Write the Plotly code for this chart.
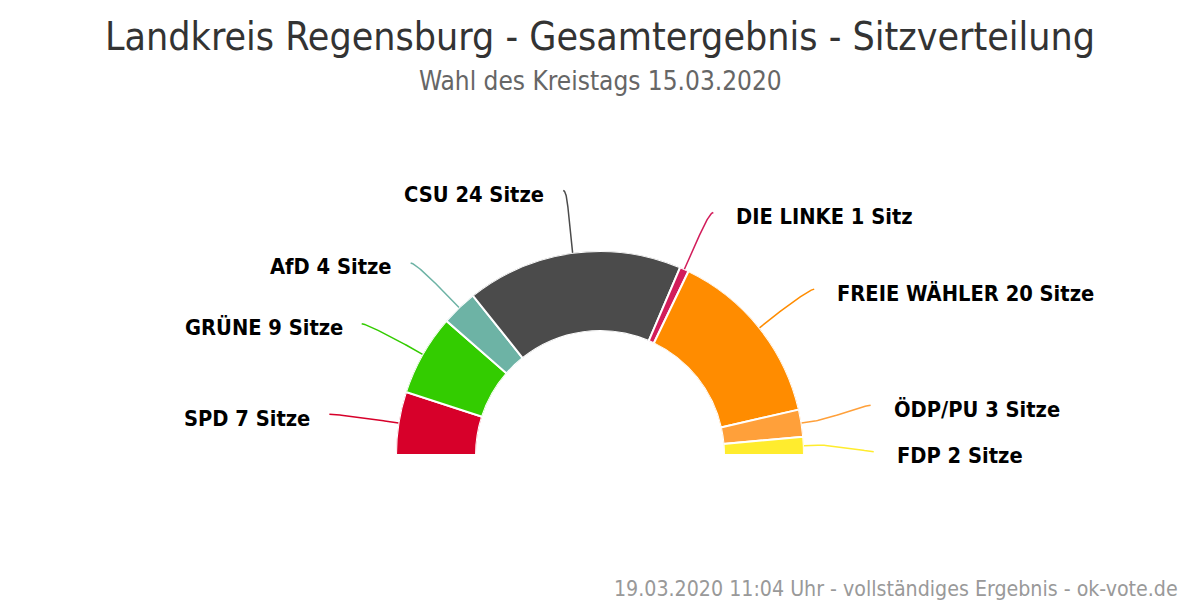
import math
import numpy as np
import plotly.graph_objects as go

# Sitzverteilung Kreistag Landkreis Regensburg 2020
parties = ["SPD", "GRÜNE", "AfD", "CSU", "DIE LINKE", "FREIE WÄHLER", "ÖDP/PU", "FDP"]
seats = [7, 9, 4, 24, 1, 20, 3, 2]
colors = ["#d7002a", "#33cc00", "#6db3a5", "#4b4b4b", "#d21d5b", "#ff8c00", "#ffa03a", "#ffec2e"]

title = "Landkreis Regensburg - Gesamtergebnis - Sitzverteilung"
subtitle = "Wahl des Kreistags 15.03.2020"
footer = "19.03.2020 11:04 Uhr - vollständiges Ergebnis - ok-vote.de"

W, H = 1200, 600
OFF = 8                    # page margin of the html body
CX, CY = 600, 455          # centre of the half ring (screen pixels)
R_OUT, R_IN = 204, 124
LABEL_R = 274
BREAK = 14
LABEL_NUDGE = [2, 4, 6, 7, 7, 5, -7, 9]   # vertical spreading of labels
FONT = "DejaVu Sans Condensed"

total = sum(seats)
cum = np.cumsum([0] + seats)
start_deg = 180 - cum[:-1] * 180 / total
end_deg = 180 - cum[1:] * 180 / total
mid_deg = (start_deg + end_deg) / 2
width_deg = np.array(seats) * 180 / total

labels = [f"{p} {n} {'Sitz' if n == 1 else 'Sitze'}" for p, n in zip(parties, seats)]

fig = go.Figure()
fig.add_trace(go.Barpolar(
    r=[1] * len(seats),
    theta=mid_deg,
    width=width_deg,
    marker=dict(color=colors, line=dict(color="white", width=2)),
    hovertext=labels,
    hoverinfo="text",
    showlegend=False,
))

annotations = []
t = np.linspace(0, 1, 40)
for i, a_deg in enumerate(mid_deg):
    a = math.radians(a_deg)
    c, s = math.cos(a), math.sin(a)
    touch = np.array([CX + R_OUT * c, CY - R_OUT * s])
    brk = np.array([CX + (R_OUT + BREAK) * c, CY - (R_OUT + BREAK) * s])
    end = np.array([CX + LABEL_R * c, CY - LABEL_R * s + LABEL_NUDGE[i]])
    side = 1 if c >= 0 else -1
    c1 = np.array([end[0] - side * 5, end[1]])
    c2 = 2 * brk - touch
    bez = (((1 - t) ** 3)[:, None] * end + (3 * (1 - t) ** 2 * t)[:, None] * c1
           + (3 * (1 - t) * t ** 2)[:, None] * c2 + (t ** 3)[:, None] * brk)
    pts = np.vstack([bez, touch])
    fig.add_trace(go.Scatter(
        x=pts[:, 0], y=pts[:, 1], mode="lines",
        line=dict(color=colors[i], width=1.5),
        hoverinfo="skip", showlegend=False,
    ))
    annotations.append(dict(
        x=end[0] + side * (21 if side > 0 else 17), y=end[1] + 4, xref="x", yref="y",
        text=labels[i], showarrow=False,
        xanchor="left" if side > 0 else "right", yanchor="middle",
        font=dict(family=FONT, size=21.7, color="#000000", weight="bold"),
    ))

annotations += [
    dict(x=CX, y=36, xref="x", yref="y", text=title, showarrow=False,
         xanchor="center", yanchor="middle",
         font=dict(family=FONT, size=39, color="#333333")),
    dict(x=CX, y=81, xref="x", yref="y", text=subtitle, showarrow=False,
         xanchor="center", yanchor="middle",
         font=dict(family=FONT, size=26, color="#666666")),
    dict(x=1180, y=588, xref="x", yref="y", text=footer, showarrow=False,
         xanchor="right", yanchor="middle",
         font=dict(family=FONT, size=21.2, color="#999999")),
]

fig.update_layout(
    width=W, height=H,
    margin=dict(l=0, r=0, t=0, b=0),
    paper_bgcolor="white",
    plot_bgcolor="rgba(0,0,0,0)",
    # axis units = screen pixels of the photographed page
    xaxis=dict(range=[OFF, W + OFF], visible=False, fixedrange=True),
    yaxis=dict(range=[H + OFF, OFF], visible=False, fixedrange=True),
    polar=dict(
        domain=dict(x=[(CX - OFF - R_OUT) / W, (CX - OFF + R_OUT) / W],
                    y=[(H - CY + OFF) / H, (H - CY + OFF + R_OUT) / H]),
        sector=[0, 180],
        hole=R_IN / R_OUT,
        bgcolor="rgba(0,0,0,0)",
        radialaxis=dict(visible=False, range=[0, 1], showgrid=False),
        angularaxis=dict(visible=False, showgrid=False, rotation=0,
                         direction="counterclockwise"),
    ),
    annotations=annotations,
    showlegend=False,
)

fig.write_html("out.html")
